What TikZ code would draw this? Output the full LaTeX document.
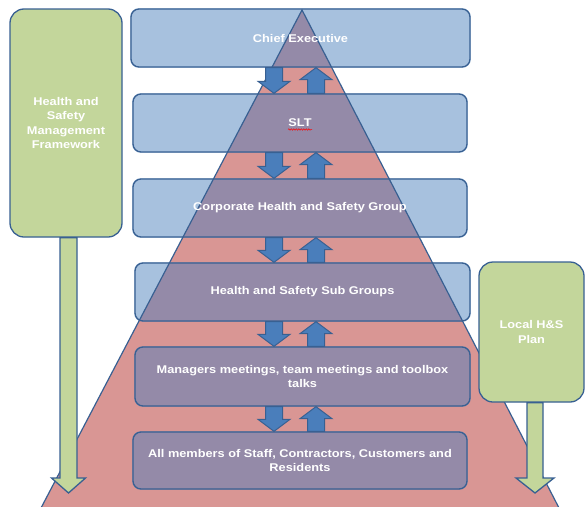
\documentclass[tikz,border=0pt]{standalone}
\usepackage{fontspec}
\newfontfamily\labfont[FakeStretch=1.14]{Liberation Sans}
\usetikzlibrary{backgrounds,decorations.pathmorphing,calc}
\definecolor{boxblue}{RGB}{167,193,222}
\definecolor{edgeblue}{RGB}{56,96,146}
\definecolor{salmon}{RGB}{217,150,148}
\definecolor{purp}{RGB}{148,138,168}
\definecolor{grn}{RGB}{195,214,155}
\definecolor{arrblue}{RGB}{74,126,187}
\newcommand\blkarrow[6]{%
  \draw[#1] let \p1=(#2), \p2=(#3) in
    ({\x1-#4pt},{\y1}) -- ({\x1-#4pt},{\y2+(#6)*1pt}) -- ({\x1-#5pt},{\y2+(#6)*1pt}) --
    ({\x1},{\y2}) -- ({\x1+#5pt},{\y2+(#6)*1pt}) -- ({\x1+#4pt},{\y2+(#6)*1pt}) --
    ({\x1+#4pt},{\y1}) -- cycle;}
\begin{document}
\begin{tikzpicture}[x=1pt,y=-1pt,
  every node/.style={font=\labfont\bfseries\fontsize{11.2}{14.5}\selectfont, text=white},
  lvl/.style={draw=edgeblue, line width=1.3pt, rounded corners=8pt, inner sep=0pt, align=center},
  grnbox/.style={draw=edgeblue, line width=1.3pt, fill=grn, rounded corners=14pt, inner sep=0pt, align=center},
  barrow/.style={draw=edgeblue, fill=arrblue, line width=1pt},
  garrow/.style={draw=edgeblue, fill=grn, line width=1.3pt}]
\useasboundingbox (0,0) rectangle (585,506);
% pyramid corners
\coordinate (apex) at (302,10);
\coordinate (bl) at (38.9,512);
\coordinate (br) at (561.1,512);
% levels
\node[lvl, minimum width=339pt, minimum height=58pt] (b1) at (300.5,38) {Chief Executive};
\node[lvl, minimum width=334pt, minimum height=58pt] (b2) at (300,123) {SLT};
\node[lvl, minimum width=334pt, minimum height=58pt] (b3) at (300,208) {Corporate Health and Safety Group};
\node[lvl, minimum width=335pt, minimum height=58pt] (b4) at (302.5,292) {Health and Safety Sub Groups};
\node[lvl, minimum width=335pt, minimum height=59pt] (b5) at (302.5,376.5) {Managers meetings, team meetings and toolbox\\talks};
\node[lvl, minimum width=334pt, minimum height=57pt] (b6) at (300,460.5) {All members of Staff, Contractors, Customers and\\Residents};
\begin{scope}[on background layer]
  \foreach \b in {b1,b2,b3,b4,b5,b6}
    \fill[boxblue, rounded corners=8pt] (\b.south west) rectangle (\b.north east);
  \fill[salmon] (apex) -- (bl) -- (br) -- cycle;
  \begin{scope}
    \clip (apex) -- (bl) -- (br) -- cycle;
    \foreach \b in {b1,b2,b3,b4,b5,b6}
      \fill[purp, rounded corners=8pt] (\b.south west) rectangle (\b.north east);
  \end{scope}
  \draw[edgeblue, line width=1.2pt] (bl) -- (apex) -- (br);
\end{scope}
% spell-check underline under SLT
\draw[red, line width=0.5pt, decorate, decoration={snake, amplitude=0.7pt, segment length=2.5pt}]
  ([xshift=-12pt,yshift=-6.5pt]b2.center) -- ([xshift=12pt,yshift=-6.5pt]b2.center);
% block arrows between levels
\coordinate (dx) at (274,0);
\coordinate (ux) at (316,0);
\foreach \a/\b in {b1/b2,b2/b3,b3/b4,b4/b5,b5/b6}{
  \blkarrow{barrow}{\a.south -| dx}{\b.north -| dx}{8.5}{16}{12}
  \blkarrow{barrow}{\b.north -| ux}{\a.south -| ux}{8.5}{16}{-12}
}
% side boxes
\node[grnbox, minimum width=112pt, minimum height=228pt] (gl) at (66,123) {Health and\\Safety\\Management\\Framework};
\node[grnbox, minimum width=105pt, minimum height=140pt] (gr) at (531.5,332) {Local H\&S\\Plan};
\coordinate (gltip) at (68.5,493);
\coordinate (grtip) at (535,493);
\blkarrow{garrow}{gl.south -| gltip}{gltip}{8.5}{17}{15}
\blkarrow{garrow}{gr.south -| grtip}{grtip}{8}{19}{15}
\end{tikzpicture}
\end{document}
